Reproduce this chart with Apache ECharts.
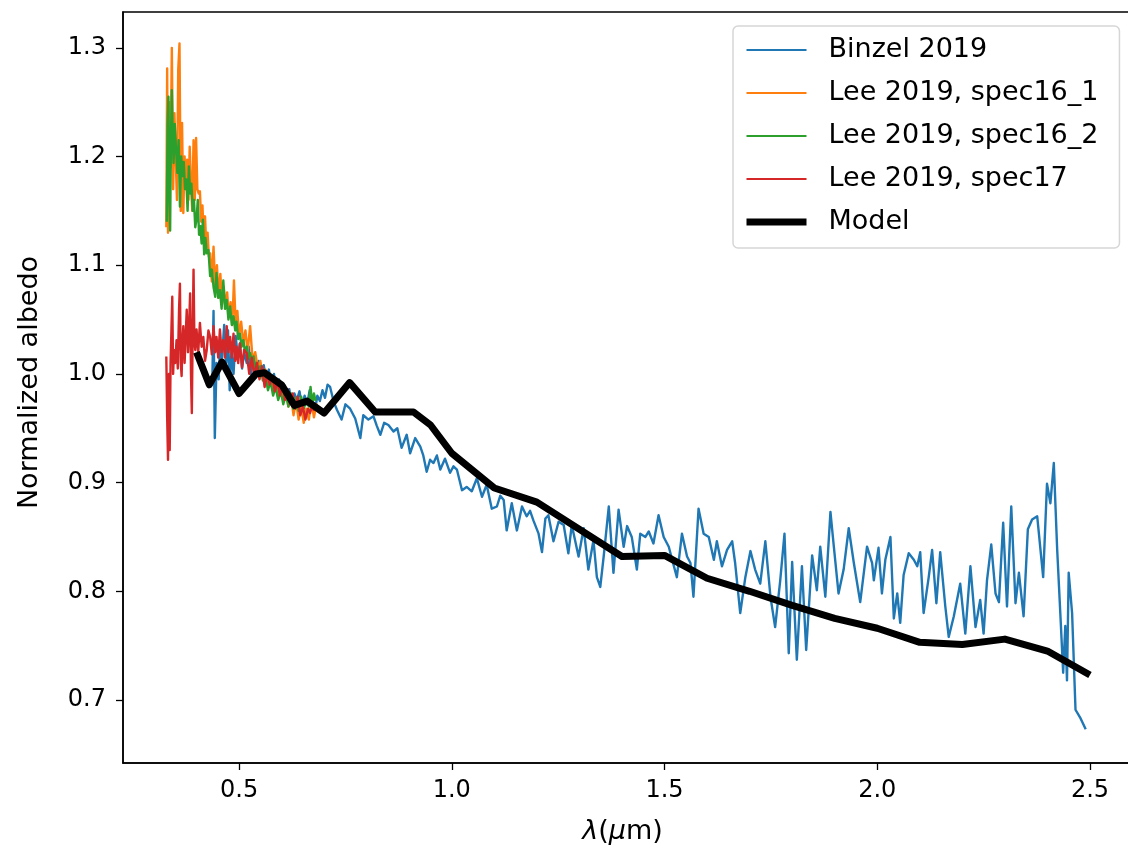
<!DOCTYPE html>
<html>
<head>
<meta charset="utf-8">
<title>Normalized albedo spectra</title>
<script src="https://cdn.jsdelivr.net/npm/echarts@6/dist/echarts.min.js"></script>
<style>
  html, body { margin: 0; padding: 0; background: #fff; }
  #chart { width: 1128px; height: 854px; }
</style>
</head>
<body>
<div id="chart"></div>
<script>
// Wavelength (µm) and normalized albedo of each spectrum.
var binzelX = [0.437,0.440,0.443,0.447,0.452,0.456,0.460,0.465,0.470,0.474,0.478,0.482,0.487,0.492,0.497,0.502,0.507,0.512,0.518,0.523,0.528,0.534,0.540,0.546,0.552,0.558,0.564,0.570,0.576,0.582,0.588,0.594,0.600,0.606,0.612,0.618,0.624,0.630,0.636,0.642,0.648,0.654,0.660,0.666,0.672,0.678,0.684,0.690,0.696,0.702,0.708,0.714,0.722,0.730,0.741,0.750,0.761,0.773,0.785,0.792,0.804,0.816,0.824,0.832,0.841,0.851,0.863,0.872,0.882,0.894,0.902,0.914,0.926,0.933,0.941,0.949,0.957,0.965,0.973,0.984,0.996,1.004,1.012,1.024,1.035,1.047,1.059,1.071,1.082,1.094,1.106,1.114,1.122,1.129,1.141,1.153,1.165,1.176,1.184,1.192,1.204,1.212,1.220,1.227,1.239,1.251,1.263,1.274,1.282,1.298,1.310,1.321,1.333,1.341,1.349,1.357,1.369,1.380,1.392,1.404,1.412,1.423,1.435,1.443,1.455,1.463,1.474,1.486,1.498,1.510,1.518,1.529,1.541,1.553,1.561,1.568,1.580,1.592,1.604,1.616,1.623,1.635,1.647,1.659,1.666,1.678,1.690,1.702,1.713,1.725,1.737,1.749,1.760,1.772,1.782,1.792,1.800,1.811,1.823,1.833,1.847,1.858,1.866,1.878,1.890,1.898,1.909,1.921,1.933,1.945,1.960,1.976,1.988,1.992,2.003,2.011,2.019,2.031,2.039,2.047,2.054,2.062,2.074,2.086,2.094,2.101,2.109,2.121,2.129,2.139,2.148,2.160,2.168,2.180,2.195,2.207,2.219,2.231,2.242,2.250,2.258,2.268,2.278,2.286,2.296,2.305,2.315,2.325,2.333,2.344,2.354,2.364,2.376,2.390,2.399,2.407,2.415,2.423,2.431,2.437,2.442,2.446,2.450,2.458,2.466,2.478,2.490];
var binzelY = [0.990,1.058,0.941,1.010,0.995,1.030,1.015,1.045,1.010,1.040,0.985,1.020,1.000,1.035,1.015,1.028,1.005,1.020,1.010,1.025,1.000,1.015,1.005,1.012,0.998,1.008,0.995,1.004,0.990,1.000,0.985,0.995,0.982,0.990,0.978,0.986,0.972,0.982,0.976,0.984,0.970,0.980,0.972,0.985,0.975,0.965,0.980,0.975,0.985,0.978,0.990,0.988,0.975,0.967,0.958,0.972,0.968,0.959,0.941,0.962,0.958,0.961,0.952,0.944,0.955,0.953,0.947,0.950,0.932,0.944,0.927,0.941,0.933,0.925,0.910,0.921,0.918,0.925,0.912,0.922,0.909,0.915,0.912,0.893,0.896,0.892,0.904,0.887,0.898,0.876,0.878,0.888,0.884,0.856,0.881,0.856,0.878,0.869,0.874,0.865,0.853,0.836,0.867,0.870,0.846,0.864,0.861,0.835,0.861,0.832,0.858,0.820,0.847,0.813,0.804,0.832,0.878,0.817,0.875,0.841,0.860,0.850,0.820,0.853,0.850,0.855,0.844,0.870,0.850,0.841,0.829,0.813,0.853,0.832,0.826,0.795,0.876,0.853,0.850,0.829,0.846,0.823,0.838,0.846,0.826,0.780,0.813,0.837,0.820,0.807,0.846,0.795,0.767,0.810,0.853,0.743,0.827,0.737,0.823,0.746,0.833,0.801,0.841,0.795,0.873,0.841,0.798,0.820,0.858,0.826,0.790,0.841,0.826,0.810,0.840,0.798,0.829,0.850,0.775,0.798,0.771,0.815,0.835,0.829,0.823,0.836,0.780,0.813,0.838,0.789,0.836,0.786,0.758,0.777,0.807,0.761,0.823,0.767,0.792,0.761,0.810,0.843,0.798,0.790,0.863,0.786,0.878,0.789,0.817,0.777,0.857,0.866,0.869,0.813,0.899,0.881,0.918,0.838,0.774,0.725,0.768,0.718,0.817,0.780,0.691,0.683,0.673];

var spec16aX = [0.329,0.331,0.333,0.336,0.339,0.342,0.345,0.348,0.351,0.354,0.357,0.360,0.363,0.366,0.369,0.372,0.375,0.378,0.381,0.384,0.387,0.390,0.393,0.396,0.399,0.402,0.405,0.408,0.411,0.414,0.417,0.420,0.423,0.426,0.429,0.432,0.436,0.440,0.444,0.448,0.452,0.456,0.460,0.464,0.468,0.472,0.476,0.480,0.484,0.488,0.492,0.496,0.500,0.505,0.510,0.515,0.520,0.526,0.532,0.538,0.544,0.550,0.556,0.562,0.568,0.574,0.580,0.586,0.592,0.598,0.604,0.610,0.616,0.622,0.628,0.634,0.640,0.646,0.652,0.658,0.664,0.670,0.676,0.682,0.686];
var spec16aY = [1.135,1.281,1.130,1.250,1.190,1.300,1.170,1.240,1.200,1.160,1.280,1.304,1.150,1.231,1.148,1.200,1.170,1.197,1.160,1.209,1.175,1.150,1.215,1.160,1.217,1.170,1.166,1.168,1.140,1.155,1.125,1.145,1.117,1.130,1.108,1.111,1.085,1.117,1.080,1.100,1.070,1.092,1.065,1.080,1.060,1.075,1.052,1.066,1.045,1.086,1.045,1.058,1.035,1.048,1.028,1.040,1.020,1.044,1.012,1.020,1.005,1.012,0.998,1.004,0.990,0.998,0.985,0.992,0.978,0.988,0.975,0.984,0.970,0.980,0.962,0.975,0.958,0.970,0.955,0.968,0.958,0.975,0.960,0.972,0.965];

var spec16bX = [0.330,0.332,0.334,0.336,0.338,0.340,0.342,0.344,0.346,0.349,0.352,0.355,0.358,0.361,0.364,0.367,0.370,0.373,0.376,0.379,0.382,0.385,0.388,0.391,0.394,0.397,0.400,0.403,0.406,0.409,0.412,0.415,0.418,0.421,0.424,0.428,0.432,0.436,0.440,0.444,0.447,0.451,0.455,0.459,0.463,0.467,0.471,0.475,0.479,0.483,0.487,0.491,0.494,0.498,0.502,0.506,0.510,0.514,0.518,0.522,0.526,0.530,0.534,0.538,0.542,0.546,0.550,0.556,0.562,0.568,0.574,0.580,0.586,0.592,0.598,0.604,0.610,0.616,0.622,0.628,0.634,0.640,0.646,0.652,0.658,0.664,0.668,0.672,0.676,0.680];
var spec16bY = [1.140,1.230,1.255,1.160,1.132,1.220,1.261,1.220,1.194,1.230,1.206,1.185,1.215,1.154,1.200,1.182,1.195,1.170,1.179,1.150,1.191,1.166,1.175,1.150,1.160,1.135,1.142,1.160,1.128,1.136,1.120,1.142,1.110,1.125,1.111,1.114,1.090,1.096,1.080,1.071,1.093,1.070,1.077,1.060,1.086,1.060,1.068,1.050,1.062,1.045,1.053,1.040,1.048,1.032,1.037,1.025,1.031,1.020,1.025,1.014,1.019,1.010,1.016,1.004,1.010,1.000,1.007,0.994,0.998,0.985,0.993,0.980,0.988,0.976,0.984,0.972,0.982,0.970,0.982,0.968,0.978,0.966,0.979,0.968,0.975,0.970,0.988,0.972,0.982,0.975];

var spec17X = [0.329,0.331,0.333,0.335,0.337,0.339,0.341,0.343,0.345,0.347,0.350,0.353,0.356,0.359,0.361,0.363,0.365,0.367,0.369,0.372,0.375,0.377,0.380,0.383,0.385,0.387,0.389,0.391,0.393,0.395,0.397,0.400,0.404,0.408,0.412,0.416,0.420,0.424,0.428,0.432,0.436,0.440,0.444,0.447,0.451,0.455,0.459,0.463,0.467,0.471,0.475,0.479,0.483,0.487,0.491,0.494,0.498,0.502,0.507,0.512,0.518,0.524,0.530,0.536,0.542,0.548,0.554,0.560,0.566,0.572,0.578,0.584,0.590,0.596,0.602,0.608,0.614,0.620,0.626,0.632,0.638,0.644,0.650,0.656,0.662,0.667,0.672,0.676];
var spec17Y = [1.016,0.960,0.921,1.000,0.930,1.010,1.040,1.071,1.000,1.022,1.010,1.031,1.005,1.060,1.083,1.010,0.998,1.030,1.044,1.010,1.040,1.059,1.020,1.050,1.074,1.000,0.964,1.040,1.096,1.030,1.022,1.041,1.020,1.047,1.025,1.034,1.012,1.022,1.040,1.034,1.018,1.044,1.020,1.034,1.015,1.041,1.020,1.031,1.015,1.044,1.020,1.034,1.015,1.037,1.012,1.025,1.010,1.028,1.006,1.022,1.019,1.000,1.015,0.998,1.010,0.995,1.007,0.988,1.000,0.990,0.998,0.984,0.994,0.980,0.990,0.976,0.986,0.972,0.982,0.968,0.979,0.962,0.970,0.958,0.968,0.964,0.972,0.966];

var modelX = [0.40,0.43,0.46,0.50,0.54,0.56,0.60,0.63,0.66,0.70,0.76,0.82,0.91,0.95,1.00,1.10,1.20,1.40,1.50,1.60,1.70,1.80,1.90,2.00,2.10,2.20,2.30,2.40,2.50];
var modelY = [1.020,0.990,1.011,0.982,1.000,1.001,0.990,0.971,0.975,0.964,0.992,0.965,0.965,0.953,0.927,0.895,0.882,0.832,0.833,0.812,0.800,0.787,0.775,0.766,0.753,0.751,0.756,0.745,0.723];

var seriesNames = ['Binzel 2019', 'Lee 2019, spec16_1', 'Lee 2019, spec16_2', 'Lee 2019, spec17', 'Model'];
var seriesColors = ['#1f77b4', '#ff7f0e', '#2ca02c', '#d62728', '#000000'];
var seriesWidths = [2.4, 2.4, 2.4, 2.4, 7];

var xTicks = [0.5, 1.0, 1.5, 2.0, 2.5];
var yTicks = [0.7, 0.8, 0.9, 1.0, 1.1, 1.2, 1.3];

function pairs(xs, ys) {
  return xs.map(function (x, i) { return [x, ys[i]]; });
}

var FONT = 'DejaVu Sans';
var chart = echarts.init(document.getElementById('chart'), null, { renderer: 'canvas' });

function lineSeries(idx, xs, ys) {
  return {
    name: seriesNames[idx],
    type: 'line',
    data: pairs(xs, ys),
    symbol: 'none',
    showSymbol: false,
    color: seriesColors[idx],
    lineStyle: { color: seriesColors[idx], width: seriesWidths[idx], join: 'round' },
    z: 2 + idx,
    animation: false
  };
}

// Legend entries: a plain line sample in the series colour and width.
var legendData = seriesNames.map(function (n, i) {
  return {
    name: n,
    itemStyle: { color: 'rgba(0,0,0,0)', borderWidth: 0, opacity: 0 },
    lineStyle: { color: seriesColors[i], width: seriesWidths[i] === 7 ? 7 : 2.2, opacity: 1 }
  };
});

chart.setOption({
  animation: false,
  backgroundColor: '#ffffff',
  grid: {
    left: 123, top: 12, right: -8, bottom: 91,
    show: true, borderColor: '#000', borderWidth: 1.5,
    containLabel: false, outerBoundsMode: 'none'
  },
  legend: {
    orient: 'vertical',
    left: 733, top: 26,
    padding: [8, 21, 10, 10],
    itemGap: 11,
    itemWidth: 60,
    itemHeight: 14,
    backgroundColor: 'rgba(255,255,255,0.8)',
    borderColor: '#d6d6d6',
    borderWidth: 1.5,
    borderRadius: 5,
    itemStyle: { color: 'rgba(0,0,0,0)', borderWidth: 0, opacity: 0 },
    textStyle: { fontFamily: FONT, fontSize: 27, color: '#000', lineHeight: 32, padding: [0, 0, 0, 17] },
    data: legendData
  },
  xAxis: {
    type: 'value',
    min: 0.2272, max: 2.6082,
    splitLine: { show: false },
    axisLine: { show: true, onZero: false, lineStyle: { color: '#000', width: 1.5 } },
    axisTick: { show: true, inside: false, length: 7, customValues: xTicks, lineStyle: { color: '#000', width: 1.3 } },
    axisLabel: {
      customValues: xTicks, margin: 16, color: '#000', fontFamily: FONT, fontSize: 24,
      formatter: function (v) { return v.toFixed(1); }
    },
    name: '{i|λ}({i|μ}m)',
    nameLocation: 'middle',
    nameGap: 55,
    nameTextStyle: {
      fontFamily: FONT, fontSize: 27, color: '#000', padding: [0, 14, 0, 0],
      rich: { i: { fontFamily: FONT, fontSize: 27, fontStyle: 'italic', color: '#000' } }
    }
  },
  yAxis: {
    type: 'value',
    min: 0.642, max: 1.333,
    splitLine: { show: false },
    axisLine: { show: true, onZero: false, lineStyle: { color: '#000', width: 1.5 } },
    axisTick: { show: true, inside: false, length: 7, customValues: yTicks, lineStyle: { color: '#000', width: 1.3 } },
    axisLabel: {
      customValues: yTicks, margin: 17, color: '#000', fontFamily: FONT, fontSize: 24,
      formatter: function (v) { return v.toFixed(1); }
    },
    name: 'Normalized albedo',
    nameLocation: 'middle',
    nameGap: 80,
    nameTextStyle: { fontFamily: FONT, fontSize: 27, color: '#000', padding: [0, 0, 0, 10] }
  },
  series: [
    lineSeries(0, binzelX, binzelY),
    lineSeries(1, spec16aX, spec16aY),
    lineSeries(2, spec16bX, spec16bY),
    lineSeries(3, spec17X, spec17Y),
    lineSeries(4, modelX, modelY)
  ]
});
</script>
</body>
</html>
